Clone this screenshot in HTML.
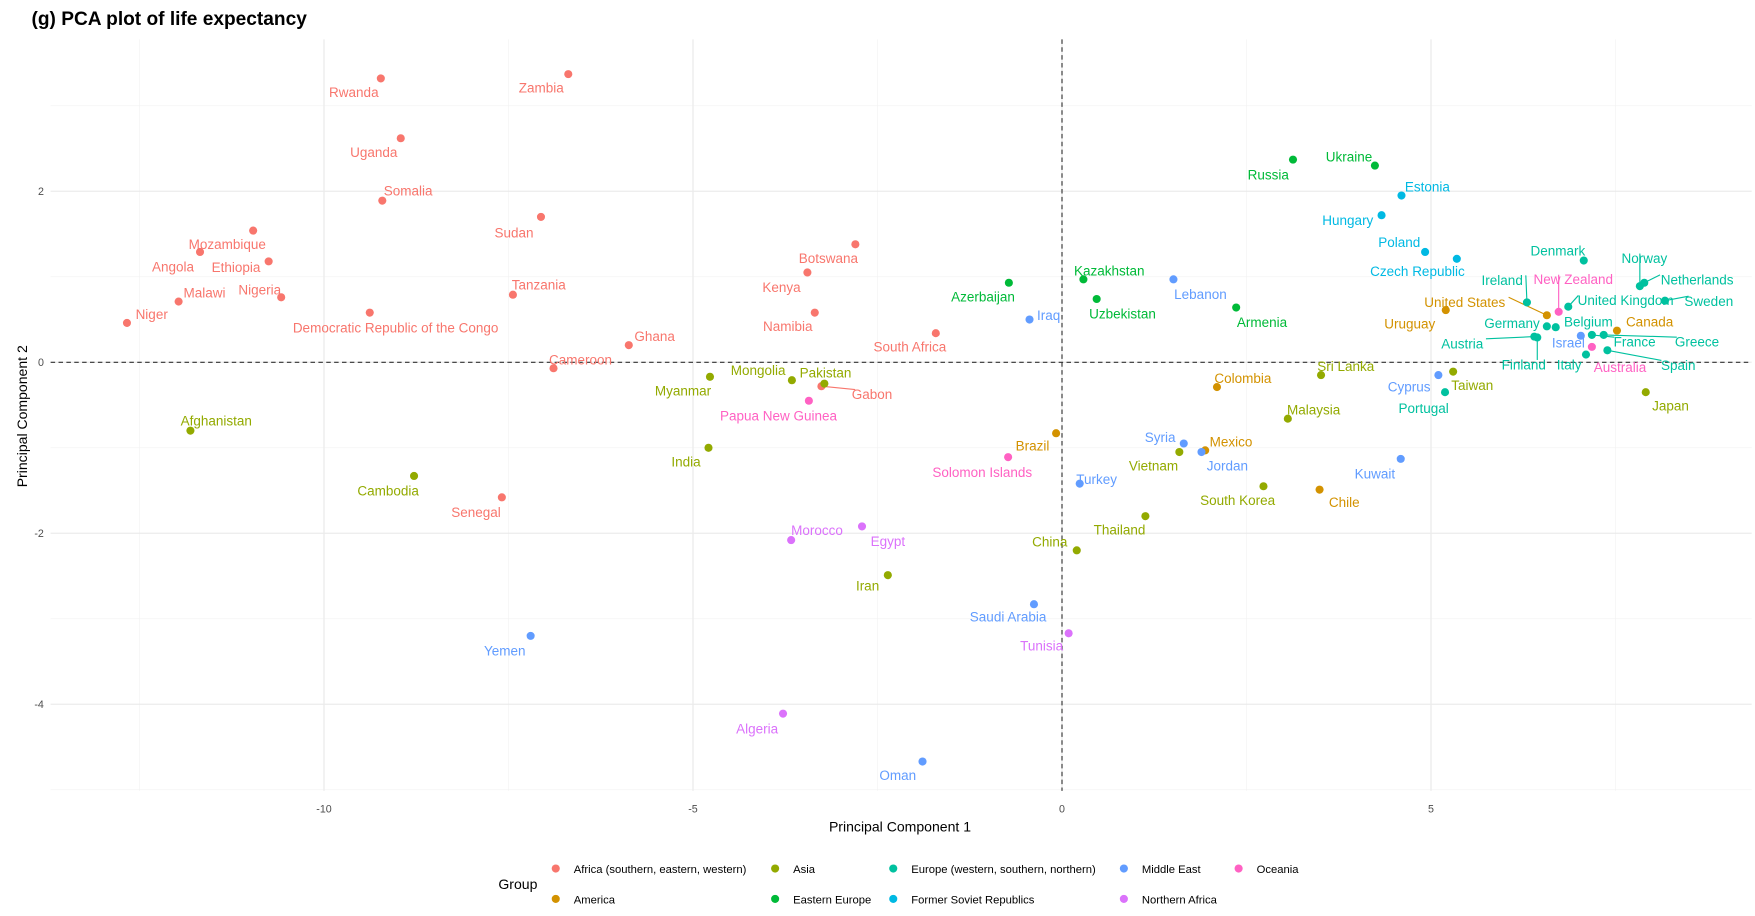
<!DOCTYPE html>
<html><head><meta charset="utf-8"><style>
html,body{margin:0;padding:0;background:#fff;}
svg{display:block;font-family:"Liberation Sans",Arial,sans-serif;}
</style></head><body>
<svg id="chart" width="1755" height="916" viewBox="0 0 1560 814.2" xmlns="http://www.w3.org/2000/svg">
<text x="28" y="22" font-size="17" font-weight="bold" fill="#000">(g) PCA plot of  life expectancy</text>
<g id="grid"></g><g id="marks"></g>
<text x="800" y="739" font-size="12.5" text-anchor="middle" fill="#000">Principal Component 1</text>
<text transform="translate(24,370) rotate(-90)" font-size="12.5" text-anchor="middle" fill="#000">Principal Component 2</text>
<g id="legend"><text x="443" y="790" font-size="12.5" fill="#000">Group</text></g>
</svg>
<script>
const groupNames=["Africa (southern, eastern, western)","America","Asia","Eastern Europe","Europe (western, southern, northern)","Former Soviet Republics","Middle East","Northern Africa","Oceania"];
const groupColors=["#F8766D","#D39200","#93AA00","#00BA38","#00C19F","#00B9E3","#619CFF","#DB72FB","#FF61C3"];
const countries=["Rwanda","Zambia","Uganda","Somalia","Sudan","Mozambique","Ethiopia","Angola","Malawi","Nigeria","Niger","Democratic Republic of the Congo","Tanzania","Botswana","Kenya","Namibia","South Africa","Ghana","Cameroon","Gabon","Senegal",
"Afghanistan","Cambodia","Myanmar","Mongolia","Pakistan","India","Iran","China","Thailand","Vietnam","South Korea","Malaysia","Sri Lanka","Taiwan","Japan",
"Brazil","Colombia","Mexico","Chile","Uruguay","United States","Canada",
"Russia","Ukraine","Azerbaijan","Kazakhstan","Uzbekistan","Armenia",
"Denmark","Norway","Netherlands","Sweden","United Kingdom","Ireland","Germany","Belgium","Austria","Finland","France","Greece","Italy","Spain","Portugal",
"Estonia","Hungary","Poland","Czech Republic",
"Lebanon","Iraq","Syria","Jordan","Turkey","Kuwait","Saudi Arabia","Yemen","Oman","Cyprus","Israel",
"Morocco","Egypt","Algeria","Tunisia",
"New Zealand","Australia","Papua New Guinea","Solomon Islands"];
const groupIdx=[0,0,0,0,0,0,0,0,0,0,0,0,0,0,0,0,0,0,0,0,0,
2,2,2,2,2,2,2,2,2,2,2,2,2,2,2,
1,1,1,1,1,1,1,
3,3,3,3,3,3,
4,4,4,4,4,4,4,4,4,4,4,4,4,4,4,
5,5,5,5,
6,6,6,6,6,6,6,6,6,6,6,
7,7,7,7,
8,8,8,8];
const pc1=[-9.23,-6.69,-8.96,-9.21,-7.06,-10.96,-10.75,-11.68,-11.97,-10.58,-12.67,-9.38,-7.44,-2.80,-3.45,-3.35,-1.71,-5.87,-6.89,-3.26,-7.59,
-11.81,-8.78,-4.77,-3.66,-3.22,-4.79,-2.36,0.20,1.13,1.59,2.73,3.06,3.51,5.30,7.91,
-0.08,2.10,1.94,3.49,5.20,6.57,7.52,
3.13,4.24,-0.72,0.29,0.47,2.36,
7.07,7.83,7.89,8.17,6.86,6.30,6.57,6.69,6.40,6.44,7.18,7.34,7.10,7.39,5.19,
4.60,4.33,4.92,5.35,
1.51,-0.44,1.65,1.89,0.24,4.59,-0.38,-7.20,-1.89,5.10,7.03,
-3.67,-2.71,-3.78,0.09,
6.73,7.18,-3.43,-0.73];
const pc2=[3.32,3.37,2.62,1.89,1.70,1.54,1.18,1.29,0.71,0.76,0.46,0.58,0.79,1.38,1.05,0.58,0.34,0.20,-0.07,-0.28,-1.58,
-0.80,-1.33,-0.17,-0.21,-0.25,-1.00,-2.49,-2.20,-1.80,-1.05,-1.45,-0.66,-0.15,-0.11,-0.35,
-0.83,-0.29,-1.03,-1.49,0.61,0.55,0.37,
2.37,2.30,0.93,0.97,0.74,0.64,
1.19,0.89,0.93,0.72,0.65,0.70,0.42,0.41,0.30,0.29,0.32,0.32,0.09,0.14,-0.35,
1.95,1.72,1.29,1.21,
0.97,0.50,-0.95,-1.05,-1.42,-1.13,-2.83,-3.20,-4.67,-0.15,0.31,
-2.08,-1.92,-4.11,-3.17,
0.59,0.18,-0.45,-1.11];
const xTicks=[-10,-5,0,5];
const yTicks=[-4,-2,0,2];
// label offsets (layout, px)
const ldx=[-24,-24,-24,23,-24,-23,-29,-24,23,-19,22,23,23,-24,-23,-24,-23,23,24,45,-23,
23,-23,-24,-30,1,-20,-18,-24,-23,-23,-23,23,22,17,22,
-21,23,23,22,-32,-73,29,
-22,-23,-23,23,23,23,
-23,4,47,39,51,-22,-31,29,-64,-12,38,83,-15,63,-19,
23,-30,-23,-35,
24,17,-21,23,15,-23,-23,-23,-22,-26,-11,
23,23,-23,-24,
13,25,-27,-23];
const ldy=[12,12,12,-9,14,12,5,13,-8,-7,-8,13,-9,12,13,12,12,-8,-8,7,13,
-9,13,12,-9,-10,12,9,-8,12,12,12,-8,-8,12,12,
11,-8,-8,11,12,-12,-8,
13,-8,12,-8,13,13,
-9,-25,-3,0,-6,-20,-3,-5,6,24,6,6,9,13,14,
-8,4,-9,11,
13,-4,-6,12,-4,13,11,13,12,10,6,
-9,13,13,11,
-29,18,13,13];
const X0=944,XS=65.6,Y0=322,YS=76,L=45,R=1557,T=35,B=703;
const sx=v=>X0+v*XS, sy=v=>Y0-v*YS;
const NS="http://www.w3.org/2000/svg";
function mk(tag,attrs,parent){const e=document.createElementNS(NS,tag);for(const k in attrs)e.setAttribute(k,attrs[k]);parent.appendChild(e);return e;}
const grid=document.getElementById('grid'),marks=document.getElementById('marks'),svg=document.getElementById('chart');
for(let v=-12.5;v<=8;v+=5){const g=mk('line',{x1:sx(v),x2:sx(v),y1:T,y2:B,stroke:'#f3f3f3','stroke-width':0.6},grid);

}
for(let v=-5;v<=3.5;v+=2){const g=mk('line',{x1:L,x2:R,y1:sy(v),y2:sy(v),stroke:'#f3f3f3','stroke-width':0.6},grid);

}
xTicks.forEach(v=>{const g=mk('line',{x1:sx(v),x2:sx(v),y1:T,y2:B,stroke:'#ebebeb','stroke-width':1.1},grid);


const t=mk('text',{x:sx(v),y:722,'font-size':9.5,'text-anchor':'middle',fill:'#4d4d4d'},svg);t.textContent=v;

});
yTicks.forEach(v=>{const g=mk('line',{x1:L,x2:R,y1:sy(v),y2:sy(v),stroke:'#ebebeb','stroke-width':1.1},grid);


const t=mk('text',{x:39,y:sy(v)+3.5,'font-size':9.5,'text-anchor':'end',fill:'#4d4d4d'},svg);t.textContent=v;

});
const zx=mk('line',{x1:sx(0),x2:sx(0),y1:T,y2:B,stroke:'#333','stroke-width':1,'stroke-dasharray':'4,3'},grid);


const zy=mk('line',{x1:L,x2:R,y1:sy(0),y2:sy(0),stroke:'#333','stroke-width':1,'stroke-dasharray':'4,3'},grid);


countries.forEach((n,i)=>{
 const c=groupColors[groupIdx[i]],px=sx(pc1[i]),py=sy(pc2[i]);
 const lx=px+ldx[i],ly=py+ldy[i];
 if(Math.abs(ldx[i])>35||Math.abs(ldy[i])>19){
  const seg=mk('line',{x1:px,y1:py,x2:lx-(ldx[i]>0?Math.min(ldx[i],n.length*3.0):Math.max(ldx[i],-n.length*3.0)),y2:ly-4,stroke:c,'stroke-width':1},marks);
  
  
 }
 const d=mk('circle',{cx:px,cy:py,r:3.6,fill:c},marks);
 
 
 const t=mk('text',{x:lx,y:ly+4.5,'font-size':12,'text-anchor':'middle',fill:c},marks);
 t.textContent=n;
 
 
});
const lg=document.getElementById('legend');
const legPos=[[494,772],[494,799],[689,772],[689,799],[794,772],[794,799],[999,772],[999,799],[1101,772]];
groupNames.forEach((g,i)=>{
 const [x,y]=legPos[i];
 const k=mk('circle',{cx:x,cy:y,r:3.6,fill:groupColors[i]},lg);
 
 
 const t=mk('text',{x:x+16,y:y+4,'font-size':10,fill:'#000'},lg);t.textContent=g;
 
 
});
</script>
</body></html>
